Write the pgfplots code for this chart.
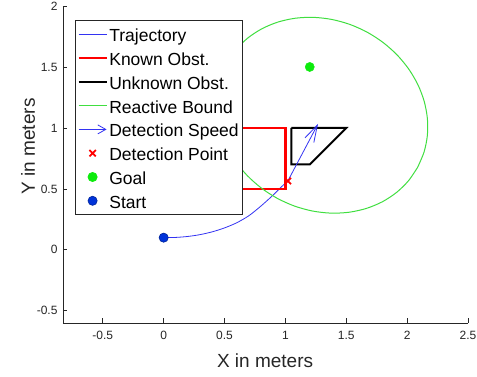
\documentclass[border=0pt]{standalone}
\usepackage{fontspec}
\setmainfont{Liberation Sans}
\usepackage{pgfplots}
\pgfplotsset{compat=1.18}
\usetikzlibrary{arrows.meta}
\definecolor{axgray}{rgb}{0.15,0.15,0.15}
\definecolor{trajblue}{rgb}{0.2,0.2,0.95}
\definecolor{boundgreen}{rgb}{0.25,0.87,0.25}
\definecolor{goalgreen}{rgb}{0.05,0.92,0.05}
\definecolor{startblue}{rgb}{0,0.2,0.85}
\pgfplotsset{
  lineleg/.style={legend image code/.code={\draw[##1] (0pt,0pt) -- (28pt,0pt);}},
  markleg/.style={legend image code/.code={\draw[##1] plot coordinates {(14pt,0pt)};}},
}
\begin{document}
\begin{tikzpicture}
\path[use as bounding box] (-63pt,-54pt) rectangle (414pt,323pt);
\begin{axis}[
  at={(0pt,0pt)}, anchor=south west,
  scale only axis, width=405pt, height=317pt,
  xmin=-0.827, xmax=2.5, ymin=-0.6, ymax=2,
  axis x line*=bottom, axis y line*=left,
  axis line style={axgray, line width=0.7pt},
  tick align=inside, major tick length=4.5pt,
  every tick/.style={axgray, line width=0.7pt},
  xtick={-0.5,0,0.5,1,1.5,2,2.5}, ytick={-0.5,0,0.5,1,1.5,2},
  /pgf/number format/assume math mode=true,
  ticklabel style={font=\fontsize{12}{14}\selectfont, text=axgray},
  xticklabel style={yshift=-5pt},
  yticklabel style={xshift=-2pt},
  xlabel={X in meters}, ylabel={Y in meters},
  label style={font=\fontsize{19}{22}\selectfont, text=axgray},
  xlabel style={at={(axis description cs:0.499,-0.118)}, anchor=center},
  ylabel style={at={(axis description cs:-0.086,0.557)}, anchor=center},
  legend style={at={(axis description cs:0.0296,0.956)}, anchor=north west,
    draw=axgray, line width=0.7pt, fill=white, inner xsep=2pt, inner ysep=2pt,
    font=\fontsize{17.5}{20}\selectfont,
    nodes={text height=16pt, text depth=1pt, inner ysep=3.4pt, inner xsep=1.5pt},
    row sep=0pt},
  legend cell align=left,
]
% Trajectory
\addplot[trajblue, line width=0.8pt, smooth, lineleg]
  coordinates {(0,0.1)(0.1,0.102)(0.2,0.11)(0.3,0.125)(0.4,0.148)(0.5,0.18)(0.6,0.222)(0.7,0.28)(0.8,0.36)(0.9,0.45)(0.96,0.51)(1.02,0.565)};
\addlegendentry{Trajectory}
% Known obstacle
\addplot[red, line width=2.5pt, lineleg]
  coordinates {(0.5,0.5)(1,0.5)(1,1)(0.5,1)(0.5,0.5)};
\addlegendentry{Known Obst.}
% Unknown obstacle
\addplot[black, line width=2pt, lineleg]
  coordinates {(1.05,1)(1.5,1)(1.2,0.7)(1.05,0.7)(1.05,1)};
\addlegendentry{Unknown Obst.}
% Reactive bound
\addplot[boundgreen, line width=1pt, smooth, lineleg]
  coordinates {
(2.0868,0.6779)(2.1391,0.8026)(2.1660,0.9365)(2.1665,1.0756)(2.1409,1.2154)(2.0898,1.3518)
(2.0146,1.4807)(1.9179,1.5983)(1.8024,1.7007)(1.6718,1.7851)(1.5300,1.8487)(1.3811,1.8897)
(1.2298,1.9069)(1.0808,1.8996)(0.9385,1.8682)(0.8073,1.8136)(0.6910,1.7373)(0.5933,1.6418)
(0.5172,1.5301)(0.4649,1.4054)(0.4380,1.2715)(0.4375,1.1324)(0.4631,0.9926)(0.5142,0.8562)
(0.5894,0.7273)(0.6861,0.6097)(0.8016,0.5073)(0.9322,0.4229)(1.0740,0.3593)(1.2229,0.3183)
(1.3742,0.3011)(1.5232,0.3084)(1.6655,0.3398)(1.7967,0.3944)(1.9130,0.4707)(2.0107,0.5662)
(2.0868,0.6779)};
\addlegendentry{Reactive Bound}
% Detection speed arrow
\addplot[trajblue, line width=0.8pt, -{Straight Barb[length=17pt,width=10pt]},
  legend image code/.code={\draw[trajblue, line width=0.8pt, -{Straight Barb[length=8pt,width=9pt]}] (0pt,0pt) -- (28pt,0pt);}]
  coordinates {(1.02,0.565)(1.268,1.033)};
\addlegendentry{Detection Speed}
% Detection point
\addplot[only marks, mark=x, mark size=4.5pt, red, line width=1.8pt, markleg]
  coordinates {(1.02,0.565)};
\addlegendentry{Detection Point}
% Goal
\addplot[only marks, mark=*, mark size=4.6pt, draw=goalgreen, fill=goalgreen, markleg]
  coordinates {(1.2,1.5)};
\addlegendentry{Goal}
% Start
\addplot[only marks, mark=*, mark size=4.6pt, draw=startblue!70!black, fill=startblue, line width=0.6pt, markleg]
  coordinates {(0,0.1)};
\addlegendentry{Start}
\end{axis}
\end{tikzpicture}
\end{document}
